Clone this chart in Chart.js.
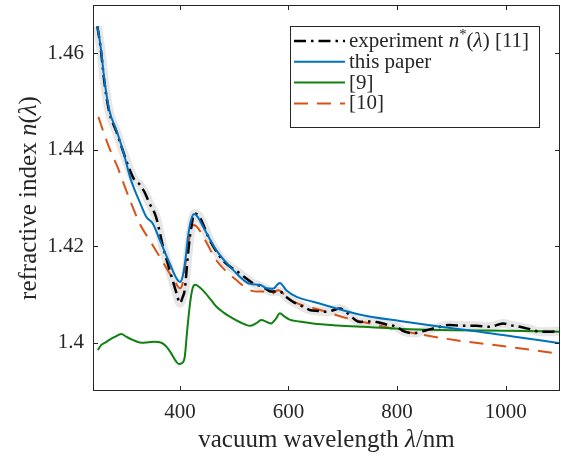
<!DOCTYPE html>
<html lang="en">
<head>
<meta charset="UTF-8">
<title>Refractive index</title>
<style>
  html, body { margin: 0; padding: 0; background: #fff; }
  .wrap { width: 561px; height: 456px; }
</style>
</head>
<body>
<div class="wrap"><canvas id="myChart" width="561" height="456"></canvas></div>

<script src="https://cdn.jsdelivr.net/npm/chart.js"></script>
<script>
// tick labels
const xTicks = [400, 600, 800, 1000];
const yTicks = [1.40, 1.42, 1.44, 1.46];
const yTickLabels = ['1.4', '1.42', '1.44', '1.46'];

// experiment n*(lambda) [11]
const expLambda = [248, 254, 261, 270, 283, 295, 307, 316, 326, 335, 344, 356, 369, 381, 394, 400, 405, 409, 415, 421, 427, 436, 455, 479, 510, 535, 547, 558, 568, 584, 596, 608, 623, 639, 655, 670, 684, 694, 705, 713, 731, 746, 762, 780, 799, 814, 830, 854, 875, 897, 920, 946, 971, 995, 1010, 1026, 1045, 1063, 1080, 1100];
const expN = [1.4656, 1.4612, 1.4540, 1.4478, 1.4438, 1.4398, 1.4360, 1.4338, 1.4328, 1.4312, 1.4289, 1.4261, 1.4199, 1.4151, 1.4102, 1.4082, 1.4094, 1.4110, 1.4185, 1.4240, 1.4268, 1.4261, 1.4213, 1.4171, 1.4144, 1.4123, 1.4118, 1.4112, 1.4106, 1.4106, 1.4095, 1.4085, 1.4077, 1.4068, 1.4066, 1.4064, 1.4068, 1.4071, 1.4065, 1.4057, 1.4043, 1.4044, 1.4043, 1.4038, 1.4033, 1.4023, 1.4020, 1.4026, 1.4032, 1.4037, 1.4035, 1.4035, 1.4033, 1.4040, 1.4036, 1.4033, 1.4028, 1.4023, 1.4023, 1.4024];

// this paper
const paperLambda = [248, 254, 261, 270, 283, 295, 310, 326, 338, 350, 363, 381, 394, 400, 405, 410, 415, 420, 426, 432, 443, 467, 498, 529, 547, 560, 571, 584, 596, 615, 645, 676, 737, 805, 880, 952, 1020, 1100];
const paperN = [1.4656, 1.4614, 1.4545, 1.4482, 1.4441, 1.4399, 1.4337, 1.4292, 1.4261, 1.4247, 1.4213, 1.4165, 1.4133, 1.4126, 1.4137, 1.4170, 1.4220, 1.4252, 1.4267, 1.4262, 1.4240, 1.4192, 1.4151, 1.4122, 1.4120, 1.4113, 1.4112, 1.4124, 1.4109, 1.4095, 1.4085, 1.4075, 1.4057, 1.4045, 1.4033, 1.4023, 1.4012, 1.3999];

// [9]
const ref9Lambda = [249, 255, 262, 270, 280, 292, 302, 313, 329, 342, 353, 366, 376, 384, 392, 398, 404, 409, 413, 417, 421, 426, 429, 435, 442, 455, 467, 480, 492, 510, 529, 540, 550, 560, 568, 577, 584, 593, 602, 620, 645, 690, 737, 823, 900, 1000, 1100];
const ref9N = [1.3985, 1.3995, 1.4000, 1.4006, 1.4012, 1.4018, 1.4012, 1.4006, 1.4000, 1.4001, 1.4002, 1.4000, 1.3991, 1.3978, 1.3963, 1.3956, 1.3958, 1.3971, 1.4020, 1.4065, 1.4100, 1.4119, 1.4120, 1.4116, 1.4109, 1.4092, 1.4075, 1.4063, 1.4054, 1.4043, 1.4035, 1.4040, 1.4047, 1.4043, 1.4040, 1.4050, 1.4061, 1.4054, 1.4048, 1.4044, 1.4040, 1.4036, 1.4033, 1.4028, 1.4026, 1.4025, 1.4023];

// [10]
const ref10Lambda = [250, 262, 274, 286, 298, 310, 326, 344, 363, 381, 391, 400, 405, 412, 418, 424, 430, 443, 467, 504, 529, 547, 553, 567, 581, 599, 615, 658, 707, 762, 817, 903, 1002, 1100];
const ref10N = [1.4468, 1.4428, 1.4393, 1.4362, 1.4325, 1.4290, 1.4247, 1.4213, 1.4178, 1.4144, 1.4126, 1.4113, 1.4123, 1.4178, 1.4220, 1.4244, 1.4242, 1.4220, 1.4171, 1.4130, 1.4109, 1.4106, 1.4106, 1.4100, 1.4109, 1.4092, 1.4082, 1.4068, 1.4051, 1.4037, 1.4023, 1.4006, 1.3992, 1.3977];

const pts = (xs, ys) => xs.map((x, i) => ({ x: x, y: ys[i] }));

const blue = '#0072BD';
const orange = '#D95319';
const green = '#108010';
const axisColor = '#262626';
const serif = '"Liberation Serif", "Times New Roman", serif';

const ctx = document.getElementById('myChart');

// box, inward ticks, axis titles and legend (matlab look)
const frame = {
    id: 'frame',
    afterDraw(chart) {
        const { ctx, chartArea: { left, right, top, bottom }, scales: { x, y } } = chart;
        ctx.save();
        ctx.strokeStyle = axisColor;
        ctx.lineWidth = 1;
        ctx.setLineDash([]);
        ctx.strokeRect(left + 0.5, top + 0.5, right - left - 1, bottom - top - 1);
        ctx.beginPath();
        xTicks.forEach(v => {
            const px = Math.round(x.getPixelForValue(v)) + 0.5;
            ctx.moveTo(px, bottom); ctx.lineTo(px, bottom - 5);
            ctx.moveTo(px, top); ctx.lineTo(px, top + 5);
        });
        yTicks.forEach(v => {
            const py = Math.round(y.getPixelForValue(v)) + 0.5;
            ctx.moveTo(left, py); ctx.lineTo(left + 5, py);
            ctx.moveTo(right, py); ctx.lineTo(right - 5, py);
        });
        ctx.stroke();

        // mixed roman / italic text
        const run = (parts, x0, y0, size) => {
            let cx = x0;
            parts.forEach(p => {
                const fs = p.sup ? size * 0.7 : size;
                ctx.font = (p.it ? 'italic ' : '') + fs + 'px ' + serif;
                ctx.fillText(p.t, cx, y0 - (p.sup ? size * 0.38 : 0));
                cx += ctx.measureText(p.t).width;
            });
            return cx - x0;
        };
        const widthOf = (parts, size) => {
            let w = 0;
            parts.forEach(p => {
                ctx.font = (p.it ? 'italic ' : '') + (p.sup ? size * 0.7 : size) + 'px ' + serif;
                w += ctx.measureText(p.t).width;
            });
            return w;
        };

        ctx.fillStyle = axisColor;
        ctx.textBaseline = 'alphabetic';
        ctx.textAlign = 'left';

        const xTitle = [{ t: 'vacuum wavelength ' }, { t: 'λ', it: true }, { t: '/nm' }];
        const wx = widthOf(xTitle, 25);
        run(xTitle, (left + right) / 2 - wx / 2, 447, 25);

        const yTitle = [{ t: 'refractive index ' }, { t: 'n', it: true }, { t: '(' }, { t: 'λ', it: true }, { t: ')' }];
        const wy = widthOf(yTitle, 25);
        ctx.save();
        ctx.translate(36, 198);
        ctx.rotate(-Math.PI / 2);
        run(yTitle, -wy / 2, 0, 25);
        ctx.restore();

        // legend
        const lx = 290, ly = 26, lw = 249, lh = 101;
        ctx.fillStyle = '#fff';
        ctx.fillRect(lx, ly, lw, lh);
        ctx.strokeStyle = axisColor;
        ctx.strokeRect(lx + 0.5, ly + 0.5, lw, lh);
        const items = [
            { color: '#000', dash: [12, 5, 2.5, 5], width: 2.5, text: [{ t: 'experiment ' }, { t: 'n', it: true }, { t: '*', sup: true }, { t: '(' }, { t: 'λ', it: true }, { t: ') [11]' }] },
            { color: blue, dash: [], width: 2, text: [{ t: 'this paper' }] },
            { color: green, dash: [], width: 2, text: [{ t: '[9]' }] },
            { color: orange, dash: [14, 9], width: 2, text: [{ t: '[10]' }] }
        ];
        items.forEach((it, i) => {
            const ry = 41 + i * 20.8;
            ctx.strokeStyle = it.color;
            ctx.lineWidth = it.width;
            ctx.setLineDash(it.dash);
            ctx.beginPath();
            ctx.moveTo(294, ry);
            ctx.lineTo(345, ry);
            ctx.stroke();
            ctx.setLineDash([]);
            ctx.fillStyle = axisColor;
            run(it.text, 349, ry + 6, 21);
        });
        ctx.restore();
    }
};

new Chart(ctx, {
    type: 'line',
    data: {
        datasets: [
            {
                label: 'experiment band',
                data: pts(expLambda, expN),
                borderColor: '#e6e6e6',
                borderWidth: 9,
                order: 5
            },
            {
                label: '[10]',
                data: pts(ref10Lambda, ref10N),
                borderColor: orange,
                borderWidth: 2,
                borderDash: [14, 9],
                order: 4
            },
            {
                label: '[9]',
                data: pts(ref9Lambda, ref9N),
                borderColor: green,
                borderWidth: 2,
                order: 3
            },
            {
                label: 'experiment n*(λ) [11]',
                data: pts(expLambda, expN),
                borderColor: '#000',
                borderWidth: 2.5,
                borderDash: [12, 5, 2.5, 5],
                order: 2
            },
            {
                label: 'this paper',
                data: pts(paperLambda, paperN),
                borderColor: blue,
                borderWidth: 2,
                order: 1
            }
        ]
    },
    plugins: [frame],
    options: {
        responsive: false,
        animation: false,
        devicePixelRatio: 1,
        layout: { padding: { left: 0, right: 1, top: 5, bottom: 0 } },
        elements: {
            point: { radius: 0 },
            line: { cubicInterpolationMode: 'monotone', borderCapStyle: 'butt', fill: false }
        },
        plugins: { legend: { display: false }, tooltip: { enabled: false } },
        scales: {
            x: {
                type: 'linear',
                min: 240,
                max: 1100,
                afterBuildTicks: s => { s.ticks = xTicks.map(v => ({ value: v })); },
                afterFit: s => { s.height = 65; s.paddingLeft = 0; s.paddingRight = 0; },
                grid: { display: false, drawTicks: false },
                border: { display: false },
                ticks: { color: axisColor, padding: 9, maxRotation: 0, font: { family: serif, size: 21 }, callback: v => String(v) }
            },
            y: {
                type: 'linear',
                min: 1.39,
                max: 1.47,
                afterBuildTicks: s => { s.ticks = yTicks.map(v => ({ value: v })); },
                afterFit: s => { s.width = 93; s.paddingTop = 0; s.paddingBottom = 0; },
                grid: { display: false, drawTicks: false },
                border: { display: false },
                ticks: { color: axisColor, padding: 9, font: { family: serif, size: 21 }, callback: v => yTickLabels[yTicks.indexOf(v)] }
            }
        }
    }
});
</script>
</body>
</html>
